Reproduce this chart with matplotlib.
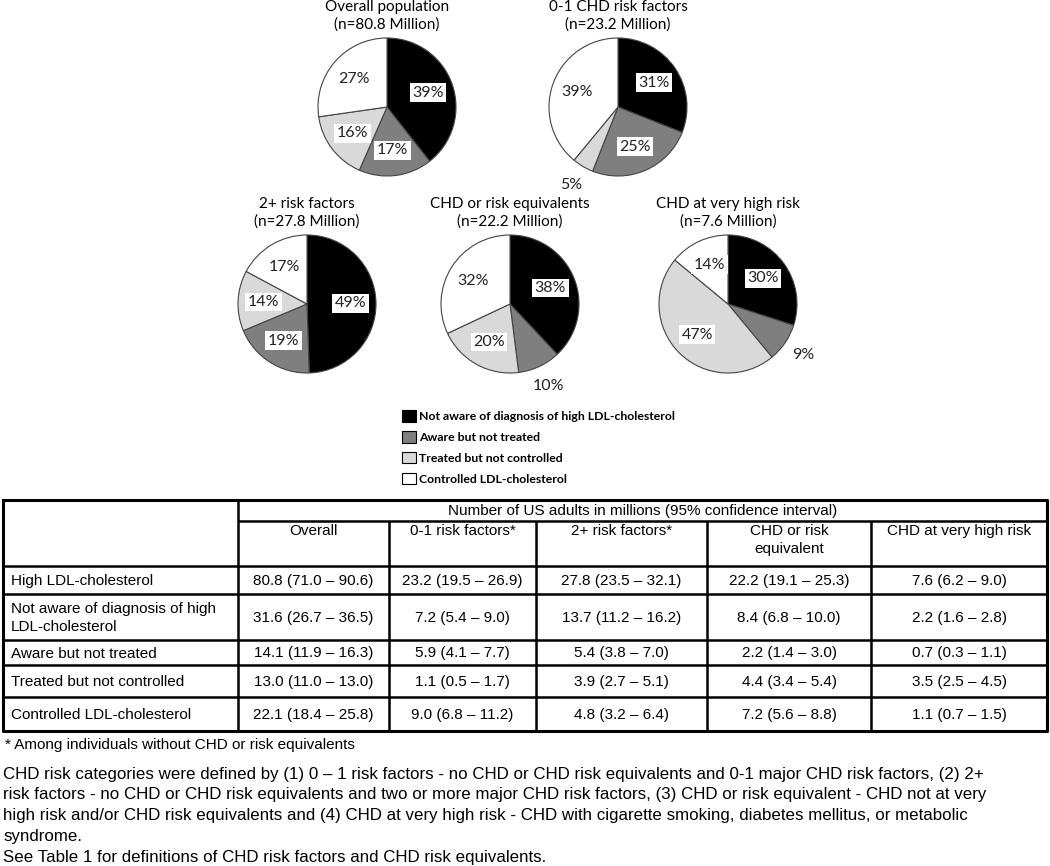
import matplotlib
matplotlib.use("Agg")
import numpy as np
import matplotlib.pyplot as plt
from matplotlib.patches import Patch

# ---- data ----
pie_titles = ["Overall population", "0-1 CHD risk factors", "2+ risk factors",
              "CHD or risk equivalents", "CHD at very high risk"]
pie_n = [80.8, 23.2, 27.8, 22.2, 7.6]
not_aware = [39, 31, 49, 38, 30]
aware_not_treated = [17, 25, 19, 10, 9]
treated_not_controlled = [16, 5, 14, 20, 47]
controlled = [27, 39, 17, 32, 14]

status_labels = ["Not aware of diagnosis of high LDL-cholesterol",
                 "Aware but not treated",
                 "Treated but not controlled",
                 "Controlled LDL-cholesterol"]
status_colors = ["#000000", "#7f7f7f", "#d9d9d9", "#ffffff"]

table_header = "Number of US adults in millions (95% confidence interval)"
col_labels = ["Overall", "0-1 risk factors*", "2+ risk factors*",
              "CHD or risk\nequivalent", "CHD at very high risk"]
row_labels = ["High LDL-cholesterol",
              "Not aware of diagnosis of high\nLDL-cholesterol",
              "Aware but not treated",
              "Treated but not controlled",
              "Controlled LDL-cholesterol"]
row_high_ldl = ["80.8 (71.0 – 90.6)", "23.2 (19.5 – 26.9)", "27.8 (23.5 – 32.1)",
                "22.2 (19.1 – 25.3)", "7.6 (6.2 – 9.0)"]
row_not_aware = ["31.6 (26.7 – 36.5)", "7.2 (5.4 – 9.0)", "13.7 (11.2 – 16.2)",
                 "8.4 (6.8 – 10.0)", "2.2 (1.6 – 2.8)"]
row_aware = ["14.1 (11.9 – 16.3)", "5.9 (4.1 – 7.7)", "5.4 (3.8 – 7.0)",
             "2.2 (1.4 – 3.0)", "0.7 (0.3 – 1.1)"]
row_treated = ["13.0 (11.0 – 13.0)", "1.1 (0.5 – 1.7)", "3.9 (2.7 – 5.1)",
               "4.4 (3.4 – 5.4)", "3.5 (2.5 – 4.5)"]
row_controlled = ["22.1 (18.4 – 25.8)", "9.0 (6.8 – 11.2)", "4.8 (3.2 – 6.4)",
                  "7.2 (5.6 – 8.8)", "1.1 (0.7 – 1.5)"]

footnote_star = "* Among individuals without CHD or risk equivalents"
footnote_lines = [
    "CHD risk categories were defined by (1) 0 – 1 risk factors - no CHD or CHD risk equivalents and 0-1 major CHD risk factors, (2) 2+",
    "risk factors - no CHD or CHD risk equivalents and two or more major CHD risk factors, (3) CHD or risk equivalent - CHD not at very",
    "high risk and/or CHD risk equivalents and (4) CHD at very high risk - CHD with cigarette smoking, diabetes mellitus, or metabolic",
    "syndrome.",
    "See Table 1 for definitions of CHD risk factors and CHD risk equivalents.",
]

# ---- layout (pixels) ----
W, H = 1050, 866
R = 69
pie_centers = [(387, 107), (618, 107), (307, 304), (510, 304), (728, 304)]

fig = plt.figure(figsize=(W / 100, H / 100), dpi=100)
fig.patch.set_facecolor("white")

PIE_FONT = ["Lato", "DejaVu Sans"]
TAB_FONT = ["Liberation Sans", "DejaVu Sans"]


def fx(x):
    return x / W


def fy(y):
    return 1 - y / H


for i, (cx, cy) in enumerate(pie_centers):
    ax = fig.add_axes([fx(cx - R), fy(cy + R), 2 * R / W, 2 * R / H])
    vals = [not_aware[i], aware_not_treated[i], treated_not_controlled[i], controlled[i]]
    wedges, _ = ax.pie(vals, colors=status_colors, startangle=90, counterclock=False,
                       radius=1, wedgeprops=dict(edgecolor="#444444", linewidth=0.8))
    ax.set_xlim(-1, 1)
    ax.set_ylim(-1, 1)
    ax.set_aspect("auto")
    ax.axis("off")
    for w, v in zip(wedges, vals):
        mid = np.deg2rad((w.theta1 + w.theta2) / 2)
        if v <= 10:
            d = 1.32
            box = None
        else:
            d = 0.63
            box = dict(boxstyle="square,pad=0.15", facecolor="white", edgecolor="none")
        ax.text(d * np.cos(mid), d * np.sin(mid), f"{v}%", ha="center", va="center",
                fontsize=11.5, family=PIE_FONT, color="#222222", bbox=box)
    fig.text(fx(cx), fy(cy - R - 31), pie_titles[i], ha="center", va="center",
             fontsize=11, family=PIE_FONT, color="black")
    fig.text(fx(cx), fy(cy - R - 13), f"(n={pie_n[i]} Million)", ha="center", va="center",
             fontsize=11, family=PIE_FONT, color="black")

handles = [Patch(facecolor=c, edgecolor="black", linewidth=0.8) for c in status_colors]
fig.legend(handles, status_labels, loc="upper left", bbox_to_anchor=(fx(396), fy(404)),
           frameon=False, handlelength=1.1, handleheight=1.1,
           handletextpad=0.3, labelspacing=0.72, borderpad=0,
           prop=dict(family=PIE_FONT, size=8.8, weight="bold"))

# ---- table ----
tx = fig.add_axes([0, 0, 1, 1])
tx.set_xlim(0, W)
tx.set_ylim(H, 0)
tx.axis("off")

col_edges = [3, 238, 389, 536, 707, 871, 1047]
row_edges = [500, 521, 566, 594, 640, 665, 697, 731]
lw = 1.8

# outer border
tx.plot([col_edges[0], col_edges[-1], col_edges[-1], col_edges[0], col_edges[0]],
        [row_edges[0], row_edges[0], row_edges[-1], row_edges[-1], row_edges[0]],
        color="black", lw=2.2)
# horizontal lines
tx.hlines(row_edges[1], col_edges[1], col_edges[-1], color="black", lw=lw)
for y in row_edges[2:-1]:
    tx.hlines(y, col_edges[0], col_edges[-1], color="black", lw=lw)
# vertical lines
tx.vlines(col_edges[1], row_edges[0], row_edges[-1], color="black", lw=lw)
for x in col_edges[2:-1]:
    tx.vlines(x, row_edges[1], row_edges[-1], color="black", lw=lw)

TFS = 11
tx.text((col_edges[1] + col_edges[-1]) / 2, (row_edges[0] + row_edges[1]) / 2 + 1, table_header,
        ha="center", va="center", fontsize=TFS, family=TAB_FONT)
for j, lab in enumerate(col_labels):
    tx.text((col_edges[j + 1] + col_edges[j + 2]) / 2, row_edges[1] + 3, lab,
            ha="center", va="top", fontsize=TFS, family=TAB_FONT, linespacing=1.35)

rows = [row_high_ldl, row_not_aware, row_aware, row_treated, row_controlled]
for r, (lab, vals) in enumerate(zip(row_labels, rows)):
    yc = (row_edges[r + 2] + row_edges[r + 3]) / 2 + 1
    tx.text(11, yc, lab, ha="left", va="center", fontsize=TFS, family=TAB_FONT, linespacing=1.3)
    for j, v in enumerate(vals):
        tx.text((col_edges[j + 1] + col_edges[j + 2]) / 2, yc, v, ha="center", va="center",
                fontsize=TFS, family=TAB_FONT)

# ---- footnotes ----
tx.text(5, 745, footnote_star, ha="left", va="center", fontsize=TFS, family=TAB_FONT)
for k, line in enumerate(footnote_lines):
    tx.text(3, 774 + k * 20.8, line, ha="left", va="center", fontsize=12.2, family=TAB_FONT)

fig.savefig("out.png", dpi=100, facecolor="white")
